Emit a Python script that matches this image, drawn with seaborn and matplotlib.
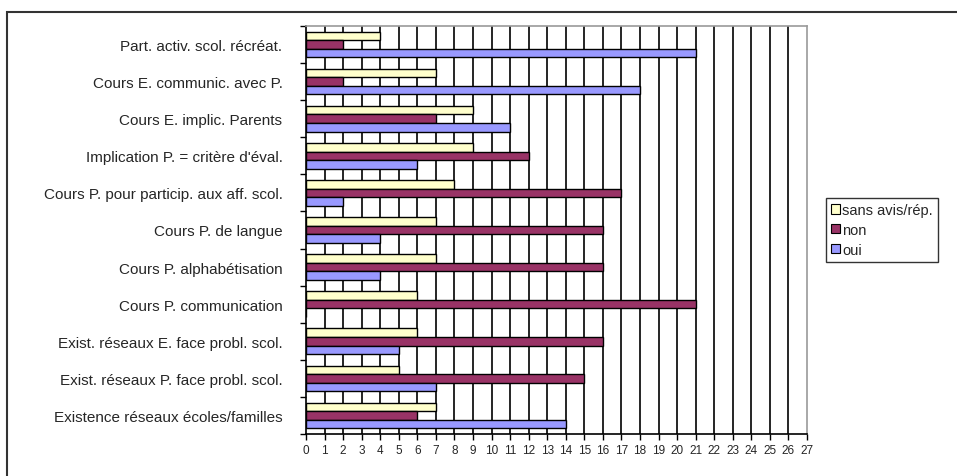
import matplotlib
matplotlib.use("Agg")
import matplotlib.pyplot as plt
from matplotlib.patches import Patch, Rectangle
from matplotlib.ticker import FixedLocator
import numpy as np
import pandas as pd
import seaborn as sns

# Survey items (top to bottom) and answer counts
categories = [
    "Part. activ. scol. récréat.",
    "Cours E. communic. avec P.",
    "Cours E. implic. Parents",
    "Implication P. = critère d'éval.",
    "Cours P. pour particip. aux aff. scol.",
    "Cours P. de langue",
    "Cours P. alphabétisation",
    "Cours P. communication",
    "Exist. réseaux E. face probl. scol.",
    "Exist. réseaux P. face probl. scol.",
    "Existence réseaux écoles/familles",
]
series_names = ["sans avis/rép.", "non", "oui"]
sans_avis = [4, 7, 9, 9, 8, 7, 7, 6, 6, 5, 7]
non = [2, 2, 7, 12, 17, 16, 16, 21, 16, 15, 6]
oui = [21, 18, 11, 6, 2, 4, 4, 0, 5, 7, 14]
x_ticks = list(range(0, 28))
colors = ["#FFFFCC", "#993366", "#9999FF"]

df = pd.DataFrame({
    "item": categories * 3,
    "reponse": [series_names[0]] * len(categories)
    + [series_names[1]] * len(categories)
    + [series_names[2]] * len(categories),
    "n": sans_avis + non + oui,
})

sns.set_theme(style="white")
plt.rcParams["font.family"] = ["Liberation Sans", "DejaVu Sans"]

W, H = 957, 477
fig = plt.figure(figsize=(W / 100, H / 100), dpi=100)
ax = fig.add_axes([306 / W, 1 - 435 / H, (807 - 306) / W, (435 - 27) / H])

sns.barplot(
    data=df, y="item", x="n", hue="reponse", order=categories,
    hue_order=series_names, palette=colors, saturation=1, orient="h",
    width=0.69, edgecolor="black", linewidth=1.0, ax=ax, legend=False,
    zorder=3,
)

ax.set_xlim(0, 27)
ax.set_ylim(len(categories) - 0.5, -0.5)
ax.set_xlabel("")
ax.set_ylabel("")

# vertical grid at every unit
ax.xaxis.set_major_locator(FixedLocator(x_ticks))
ax.set_xticklabels([str(t) for t in x_ticks], fontsize=8.5)
ax.grid(False)
for t in x_ticks[1:-1]:
    ax.axvline(t, color="black", lw=1.2, zorder=1)

# spines
for s in ["left", "bottom"]:
    ax.spines[s].set_color("black")
    ax.spines[s].set_linewidth(1.2)
for s in ["top", "right"]:
    ax.spines[s].set_color("#9a9a9a")
    ax.spines[s].set_linewidth(1.2)

# ticks: x ticks downward, y ticks at group boundaries
ax.tick_params(axis="x", which="major", direction="out", length=4, width=1,
               color="black", pad=3, bottom=True)
ax.tick_params(axis="y", which="major", length=0, pad=17, labelsize=11)
ax.yaxis.set_minor_locator(FixedLocator(np.arange(-0.5, len(categories), 1.0)))
ax.tick_params(axis="y", which="minor", direction="out", length=4, width=1,
               color="black", left=True)

# legend
handles = [Patch(facecolor=c, edgecolor="black", linewidth=0.8) for c in colors]
leg = fig.legend(
    handles, series_names, loc="upper left",
    bbox_to_anchor=(826 / W, 1 - 199 / H), bbox_transform=fig.transFigure,
    fontsize=10.5, frameon=True, fancybox=False, edgecolor="black",
    handlelength=0.6, handleheight=0.6, handletextpad=0.15,
    labelspacing=0.4, borderpad=0.35, borderaxespad=0,
)
leg.get_frame().set_linewidth(1.0)

# outer chart frame
fig.patches.append(Rectangle((7 / W, -0.2), 1.2, 0.2 + 1 - 13 / H,
                             transform=fig.transFigure, fill=False,
                             edgecolor="#333333", linewidth=1.5))

fig.savefig("out.png", dpi=100)
